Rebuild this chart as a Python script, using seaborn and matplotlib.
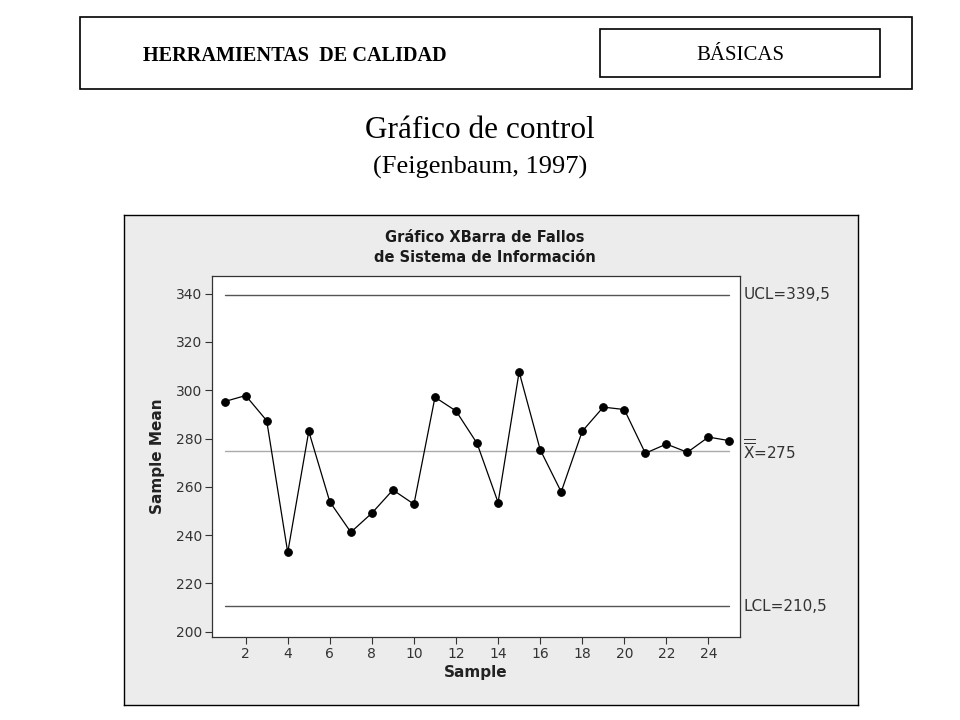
import matplotlib
matplotlib.use("Agg")
import matplotlib.pyplot as plt
import matplotlib.patches as patches
import seaborn as sns
import pandas as pd

# --- data ---
sample = list(range(1, 26))
sample_mean = [295.3, 297.8, 287.4, 232.8, 283.0, 253.8, 241.2, 249.1, 258.7, 252.8,
               297.1, 291.4, 278.0, 253.5, 307.6, 275.4, 257.9, 283.0, 293.0, 292.0,
               273.9, 277.7, 274.3, 280.6, 279.1]
ucl = 339.5
center = 275
lcl = 210.5
y_ticks = [200, 220, 240, 260, 280, 300, 320, 340]
x_ticks = list(range(2, 25, 2))

df = pd.DataFrame({"Sample": sample, "Sample Mean": sample_mean})

sns.set_theme(style="white")
plt.rcParams['font.family'] = ['DejaVu Sans']
plt.rcParams['mathtext.fontset'] = 'dejavusans'

W, H = 960, 720
fig = plt.figure(figsize=(9.6, 7.2), dpi=100)
fig.patch.set_facecolor("white")

# --- header boxes ---
fig.patches.append(patches.Rectangle((80/W, 1-89/H), 832/W, 72/H,
                                     transform=fig.transFigure, fill=False,
                                     edgecolor="black", linewidth=1.2))
fig.patches.append(patches.Rectangle((600/W, 1-77/H), 280/W, 48/H,
                                     transform=fig.transFigure, fill=False,
                                     edgecolor="black", linewidth=1.2))
fig.text(295/W, 1-61/H, "HERRAMIENTAS  DE CALIDAD", ha="center", va="baseline",
         family="Liberation Serif", fontweight="bold", fontsize=14.6, color="black")
fig.text(740/W, 1-60/H, "BÁSICAS", ha="center", va="baseline",
         family="Liberation Serif", fontsize=15, color="black")

fig.text(0.5, 1-138/H, "Gráfico de control", ha="center", va="baseline",
         family="Liberation Serif", fontsize=22.5, color="black")
fig.text(0.5, 1-174/H, "(Feigenbaum, 1997)", ha="center", va="baseline",
         family="Liberation Serif", fontsize=19, color="black")

# --- grey chart panel (background axes) ---
bg = fig.add_axes([124/W, 1-705/H, 734/W, 490/H], zorder=0)
bg.set_facecolor("#ececec")
bg.set_xticks([])
bg.set_yticks([])
for s in bg.spines.values():
    s.set_color("black")
    s.set_linewidth(1.0)

fig.text(485/W, 1-238/H, "Gráfico XBarra de Fallos", ha="center", va="center",
         fontsize=10.5, fontweight="bold", color="#1a1a1a", zorder=5)
fig.text(485/W, 1-257/H, "de Sistema de Información", ha="center", va="center",
         fontsize=10.5, fontweight="bold", color="#1a1a1a", zorder=5)

# plot area: 212..740 px wide, 276..637 px tall
ax = fig.add_axes([212/W, 1-637/H, 528/W, 361/H], zorder=2)
ax.set_facecolor("white")

ax.plot([1, 25], [ucl, ucl], color="#555555", linewidth=1.0)
ax.plot([1, 25], [lcl, lcl], color="#555555", linewidth=1.0)
ax.plot([1, 25], [center, center], color="#aaaaaa", linewidth=1.0)

sns.lineplot(data=df, x="Sample", y="Sample Mean", ax=ax, color="black",
             linewidth=0.9, marker="o", markersize=5.5, markeredgecolor="black")

ax.set_xlim(0.4, 25.5)
ax.set_ylim(197.8, 347.3)
ax.set_xticks(x_ticks)
ax.set_yticks(y_ticks)
ax.tick_params(axis="both", direction="out", length=5, width=0.8, color="#333333",
               labelsize=10, labelcolor="#333333", left=True, bottom=True, pad=2)
for s in ax.spines.values():
    s.set_color("#333333")
    s.set_linewidth(0.9)

ax.set_xlabel("Sample", fontsize=11, fontweight="bold", color="#222222", labelpad=3)
ax.set_ylabel("Sample Mean", fontsize=11, fontweight="bold", color="#222222", labelpad=8)

# control limit labels to the right of the plot
ytr = ax.get_yaxis_transform()
ax.text(1.006, ucl, "UCL=339,5", transform=ytr,
        ha="left", va="center", fontsize=11, color="#333333")
ax.text(1.006, center, r"$\overline{\overline{\mathrm{X}}}$=275", transform=ytr,
        ha="left", va="center", fontsize=11, color="#333333")
ax.text(1.006, lcl, "LCL=210,5", transform=ytr,
        ha="left", va="center", fontsize=11, color="#333333")

fig.savefig("out.png", dpi=100, facecolor="white")
